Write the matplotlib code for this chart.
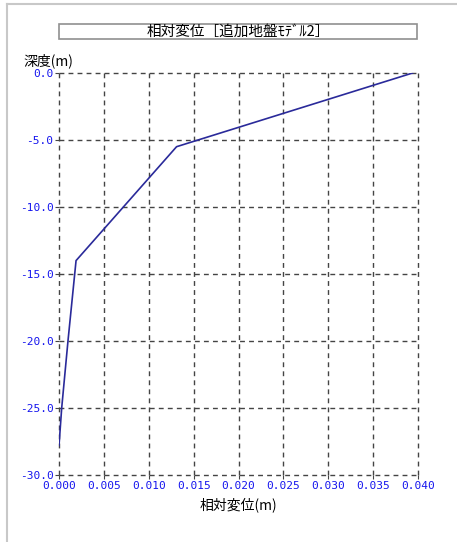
import numpy as np
import matplotlib.pyplot as plt
from matplotlib.patches import Rectangle
from matplotlib.lines import Line2D

plt.rcParams['font.family'] = ['Noto Sans CJK JP', 'DejaVu Sans']

# relative displacement profile (m) vs depth (m)
displacement = [0.0394, 0.0131, 0.0019, 0.0010, 0.0003, 0.0]
depth = [0.0, -5.5, -14.0, -20.0, -25.0, -27.8]

x_ticks = np.arange(0.0, 0.0401, 0.005)
y_ticks = np.arange(-30.0, 0.1, 5.0)

title = '相対変位［追加地盤ﾓﾃﾞﾙ2］'
x_label = '相対変位(m)'
y_label = '深度(m)'

fig = plt.figure(figsize=(4.57, 5.42), dpi=100)
fig.patch.set_facecolor('white')

# thin gray frame around the figure (top and left edges)
fig.add_artist(Line2D([6.5 / 457, 1.0], [1 - 4 / 542] * 2, color='#c8c8c8', lw=1.5))
fig.add_artist(Line2D([6.5 / 457] * 2, [0.0, 1 - 4 / 542], color='#c8c8c8', lw=1.5))

# title box
fig.add_artist(Rectangle((59 / 457, 1 - 39 / 542), 358 / 457, 15 / 542,
                         transform=fig.transFigure, fill=False,
                         edgecolor='#909090', lw=1.2))
fig.text(238 / 457, 1 - 31.5 / 542, title, ha='center', va='center',
         fontsize=10.5, color='black')

ax = fig.add_axes([59 / 457, 1 - 475 / 542, 359 / 457, 402 / 542])
ax.plot(displacement, depth, color='#2a2a9a', lw=1.2)

ax.set_xlim(0.0, 0.040)
ax.set_ylim(-30.0, 0.0)
ax.set_xticks(x_ticks)
ax.set_yticks(y_ticks)
ax.set_xticklabels(['{:.3f}'.format(v) for v in x_ticks], family='DejaVu Sans Mono')
ax.set_yticklabels(['{:.1f}'.format(v) for v in y_ticks], family='DejaVu Sans Mono')
ax.tick_params(axis='both', colors='#444444', labelcolor='#1515ee', labelsize=8,
               length=3, width=0.8, direction='out', pad=1)

for s in ax.spines.values():
    s.set_visible(False)
ax.grid(True, color='#444444', linestyle=(0, (3.5, 3)), lw=1.0)
ax.set_axisbelow(True)
ax.patch.set_alpha(0)
for gl in ax.get_xgridlines() + ax.get_ygridlines():
    gl.set_clip_on(False)

fig.text(238 / 457, 1 - 505 / 542, x_label, ha='center', va='center', fontsize=10)
fig.text(23 / 457, 1 - 61 / 542, y_label, ha='left', va='center', fontsize=10)

fig.savefig('out.png', dpi=100)
